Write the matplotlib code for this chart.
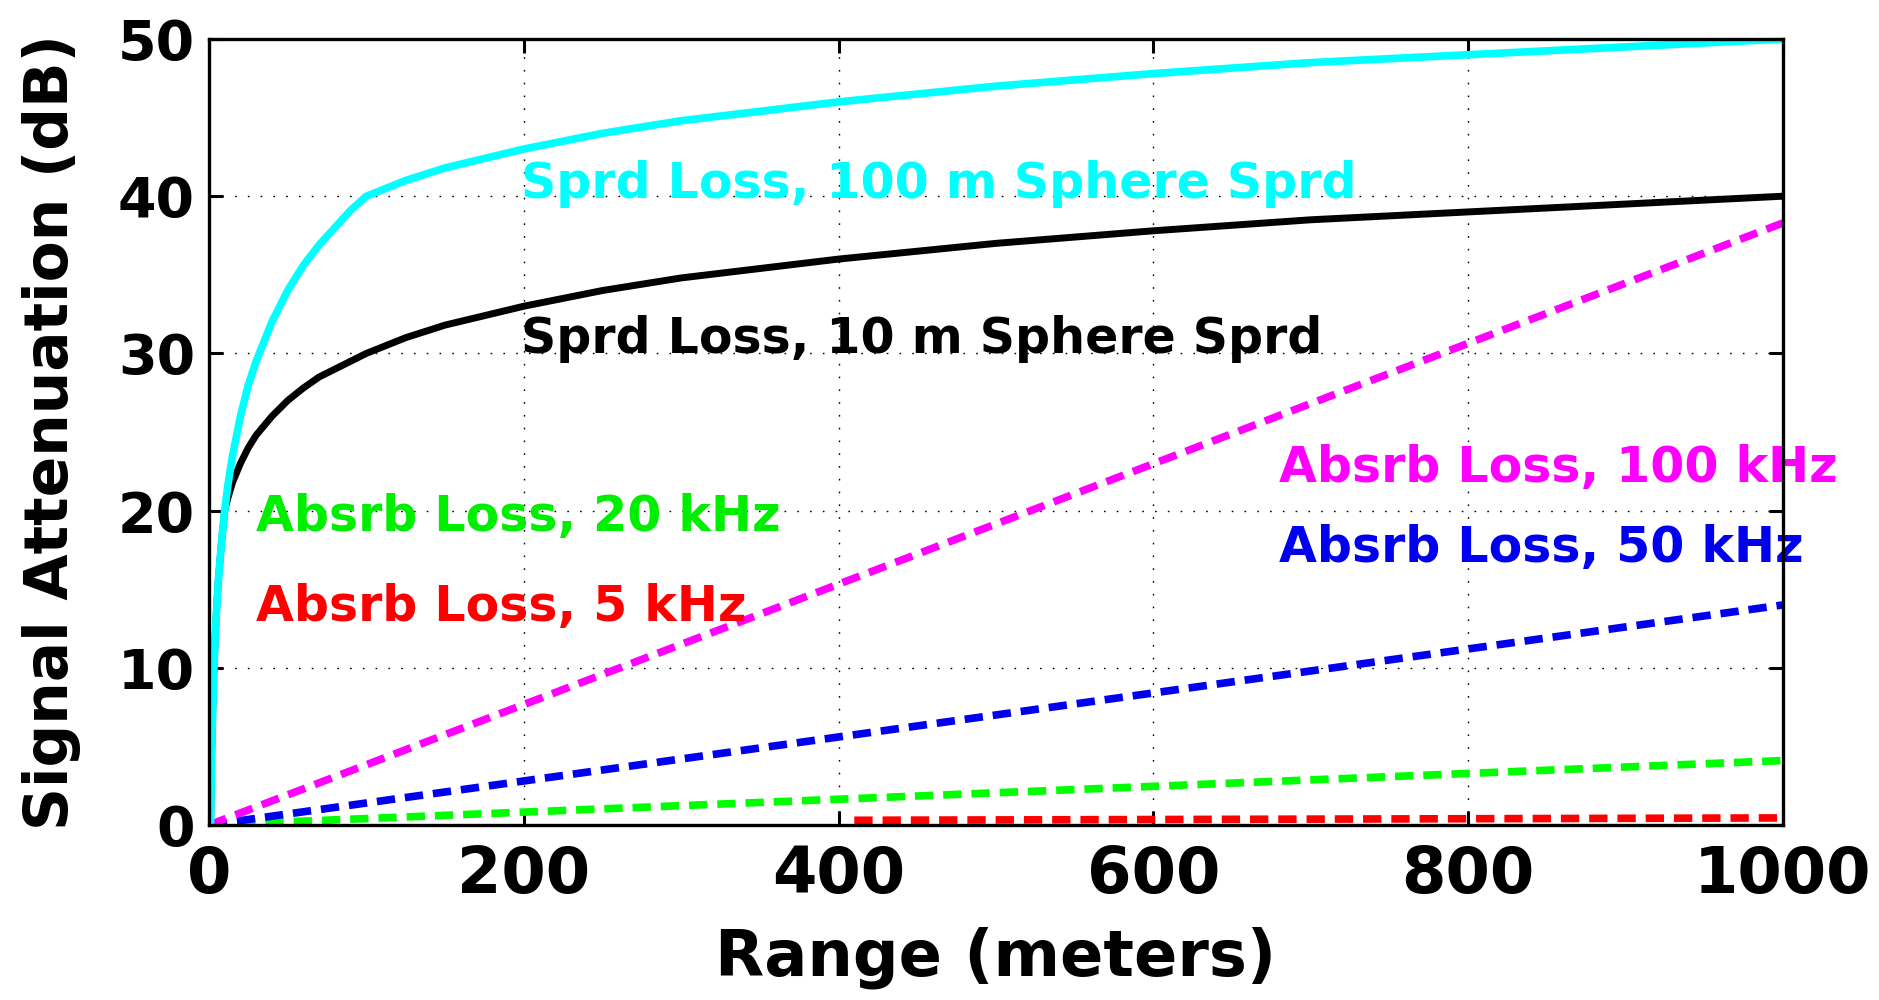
import matplotlib
matplotlib.use("Agg")
import matplotlib.pyplot as plt

# ---- data ----
sph100_x = [1, 1.5, 2, 3, 4, 5, 6, 8, 10, 12, 15, 20, 25, 30, 40, 50, 60, 70, 80, 90, 100,
            125, 150, 200, 250, 300, 400, 500, 600, 700, 800, 900, 1000]
sph100_y = [0, 3.5, 6, 9.5, 12, 14, 15.6, 18, 20, 21.6, 23.5, 26, 28, 29.5, 32, 34, 35.6, 36.9, 38, 39.1, 40,
            41, 41.8, 43, 44, 44.8, 46, 47, 47.8, 48.5, 49, 49.5, 50]
sph10_x = [1, 1.5, 2, 3, 4, 5, 6, 8, 10, 12, 15, 20, 25, 30, 40, 50, 60, 70, 80, 100,
           125, 150, 200, 250, 300, 400, 500, 600, 700, 800, 900, 1000]
sph10_y = [0, 3.5, 6, 9.5, 12, 14, 15.6, 18, 20, 20.8, 21.8, 23, 24, 24.8, 26, 27, 27.8, 28.5, 29, 30,
           31, 31.8, 33, 34, 34.8, 36, 37, 37.8, 38.5, 39, 39.5, 40]
abs100_x = [0, 1000]
abs100_y = [0, 38.3]
abs50_x = [0, 1000]
abs50_y = [0, 14.0]
abs20_x = [0, 1000]
abs20_y = [0, 4.1]
abs5_x = [410, 1000]
abs5_y = [0.3, 0.45]

x_ticks = [0, 200, 400, 600, 800, 1000]
y_ticks = [0, 10, 20, 30, 40, 50]

labels = ["Sprd Loss, 100 m Sphere Sprd", "Sprd Loss, 10 m Sphere Sprd",
          "Absrb Loss, 20 kHz", "Absrb Loss, 5 kHz",
          "Absrb Loss, 100 kHz", "Absrb Loss, 50 kHz"]
label_x = [198, 198, 30, 30, 680, 680]
label_y = [39.9, 30.0, 18.7, 13.0, 21.8, 16.7]
label_colors = ["#00ffff", "black", "#00ee00", "red", "#ff00ff", "#0000ee"]

# ---- figure ----
fig = plt.figure(figsize=(18.79, 10), dpi=100)
ax = fig.add_axes([0.1112, 0.175, 0.8377, 0.786])

ax.plot(sph10_x, sph10_y, color="black", lw=5.0, zorder=3)
ax.plot(sph100_x, sph100_y, color="#00ffff", lw=5.5, zorder=4)
dash = (0, (2.4, 1.3))
ax.plot(abs5_x, abs5_y, color="red", lw=5.5, ls=dash, zorder=3)
ax.plot(abs20_x, abs20_y, color="#00ff00", lw=5.5, ls=dash, zorder=3)
ax.plot(abs50_x, abs50_y, color="#0000ee", lw=5.5, ls=dash, zorder=3)
ax.plot(abs100_x, abs100_y, color="#ff00ff", lw=5.5, ls=dash, zorder=3)

for t, x, y, c in zip(labels, label_x, label_y, label_colors):
    ax.text(x, y, t, color=c, fontsize=35.3, family="DejaVu Sans", fontweight="bold",
            ha="left", va="baseline", zorder=5, clip_on=False)

ax.set_xlim(0, 1000)
ax.set_ylim(0, 50)
ax.set_xticks(x_ticks)
ax.set_yticks(y_ticks)
ax.grid(True, color="black", lw=1.0, ls=(0, (1.2, 8)))
ax.set_axisbelow(True)

for s in ax.spines.values():
    s.set_linewidth(2.4)
    s.set_zorder(6)

ax.tick_params(direction="in", length=10, width=2.2, top=True, right=True)
ax.tick_params(axis="x", labelsize=46, pad=14)
ax.tick_params(axis="y", labelsize=40, pad=10)
for lab in ax.get_xticklabels() + ax.get_yticklabels():
    lab.set_fontweight("bold")
    lab.set_family("DejaVu Sans")

ax.set_xlabel("Range (meters)", fontsize=46, fontweight="bold", family="DejaVu Sans")
ax.set_ylabel("Signal Attenuation (dB)", fontsize=43, fontweight="bold", family="DejaVu Sans")
ax.xaxis.set_label_coords(0.5, -0.1285)
ax.yaxis.set_label_coords(-0.081, 0.5)

fig.savefig("out.png", dpi=100, facecolor="white")
